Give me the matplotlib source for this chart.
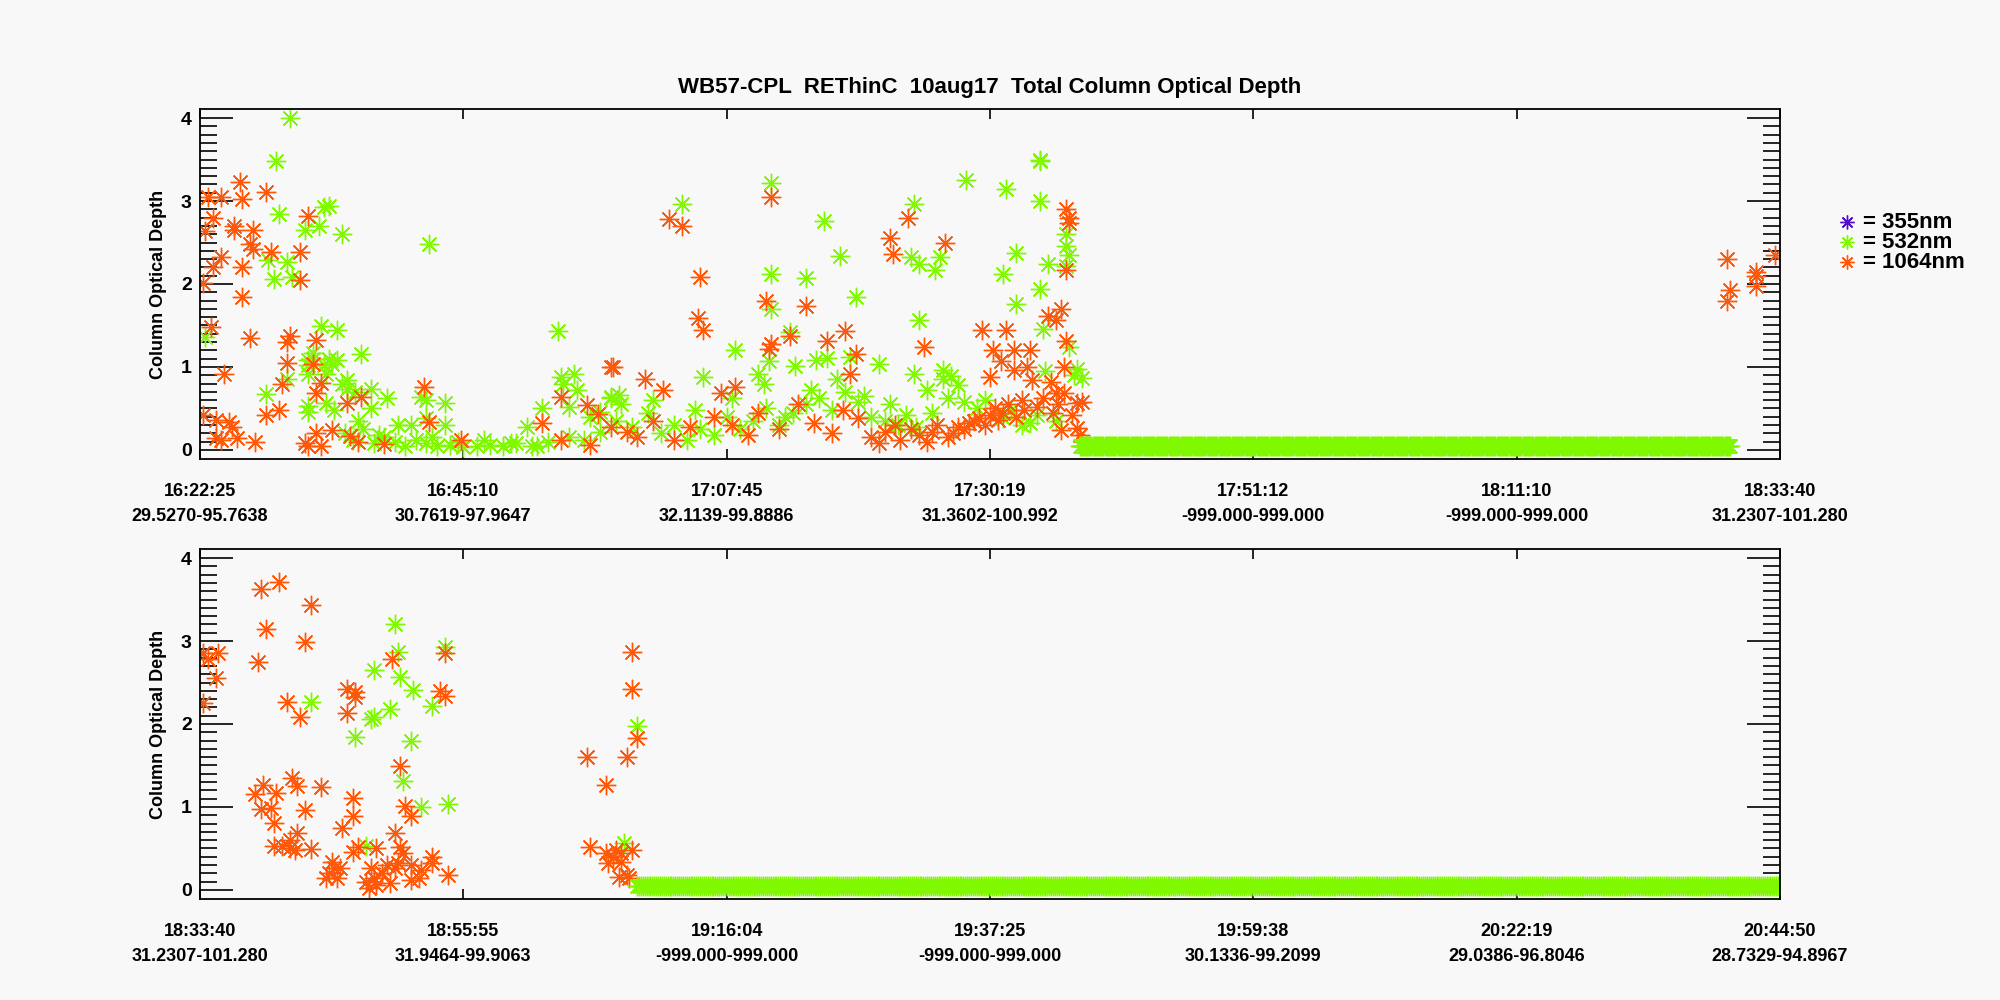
import numpy as np
import matplotlib
matplotlib.use("Agg")
import matplotlib.pyplot as plt
from matplotlib.lines import Line2D

plt.rcParams['font.family'] = ['Liberation Sans', 'DejaVu Sans']
plt.rcParams['font.weight'] = 'bold'

# ------------------------------------------------------------
# Dados (x em unidades de marca do eixo, 0..6)
# ------------------------------------------------------------
top_labels = ["16:22:25\n29.5270-95.7638", "16:45:10\n30.7619-97.9647",
              "17:07:45\n32.1139-99.8886", "17:30:19\n31.3602-100.992",
              "17:51:12\n-999.000-999.000", "18:11:10\n-999.000-999.000",
              "18:33:40\n31.2307-101.280"]
bot_labels = ["18:33:40\n31.2307-101.280", "18:55:55\n31.9464-99.9063",
              "19:16:04\n-999.000-999.000", "19:37:25\n-999.000-999.000",
              "19:59:38\n30.1336-99.2099", "20:22:19\n29.0386-96.8046",
              "20:44:50\n28.7329-94.8967"]

# painel superior - 1064nm
top_x_1064 = [0.01, 0.04, 0.03, 0.08, 0.05, 0.02, 0.05, 0.08, 0.13, 0.13, 0.15, 0.16, 0.16, 0.16,
              0.19, 0.2, 0.2, 0.19, 0.25, 0.27, 0.38, 0.38, 0.41, 0.33, 0.34, 0.44, 0.33, 0.09, 0.43,
              0.31, 0.44, 0.46, 0.25, 0.30, 0.01, 0.06, 0.11, 0.12, 0.14, 0.06, 0.08, 0.21, 0.40,
              0.41, 0.46, 0.44, 0.50, 0.57, 0.56, 0.61, 0.60, 0.70, 0.85, 0.87, 0.99, 1.30, 1.37,
              1.37, 1.47, 1.51, 1.56, 1.56, 1.48,
              1.57, 1.69, 1.76, 1.78, 1.83, 1.90, 1.89, 1.91, 2.17, 2.15, 2.30, 2.24, 2.17, 2.16,
              2.38, 2.45, 2.49, 2.47, 2.62, 2.63, 2.69, 2.83, 2.75, 2.03, 1.98, 2.97, 3.06, 3.01,
              3.09, 3.15, 3.04, 3.09, 3.14, 3.16, 3.00, 3.29, 3.30, 3.30, 3.29, 3.27, 3.22, 3.25,
              3.29, 3.28, 3.23, 3.25, 3.28, 3.33, 3.35, 3.33, 3.34, 3.27,
              1.62, 1.66, 1.72, 1.80, 1.86, 1.95, 2.02, 2.08, 2.12, 2.20, 2.27, 2.33, 2.40, 2.44,
              2.50, 2.55, 2.58, 2.60, 2.64, 2.66, 2.70, 2.73, 2.76, 2.78, 2.80, 2.84, 2.86, 2.88,
              2.90, 2.92, 2.94, 2.96, 2.98, 3.00, 3.02, 3.03, 3.05, 3.07, 3.10, 3.12, 3.13, 3.18,
              3.20, 3.24, 3.26, 3.31,
              5.80, 5.81, 5.80, 5.91, 5.91, 5.91, 5.98]
top_y_1064 = [2.01, 1.48, 3.05, 3.05, 2.80, 2.64, 2.21, 2.32, 2.70, 2.65, 3.23, 3.03, 2.20, 1.84,
              2.48, 2.42, 2.65, 1.35, 3.11, 2.39, 2.39, 2.05, 2.82, 1.30, 1.37, 1.32, 1.05, 0.92, 1.03,
              0.80, 0.68, 0.81, 0.42, 0.48, 0.42, 0.36, 0.34, 0.27, 0.14, 0.14, 0.12, 0.10, 0.08,
              0.05, 0.05, 0.20, 0.24, 0.17, 0.56, 0.64, 0.10, 0.07, 0.76, 0.34, 0.12, 0.32, 0.64,
              0.12, 0.54, 0.43, 1.00, 0.27, 0.06,
              1.00, 0.86, 0.72, 2.78, 2.70, 2.09, 1.59, 1.45, 3.05, 1.80, 1.73, 1.37, 1.28, 1.22,
              1.31, 1.43, 1.16, 0.92, 2.55, 2.36, 2.79, 2.50, 1.24, 0.76, 0.68, 1.44, 1.45, 1.20,
              1.20, 1.20, 1.07, 0.96, 1.00, 0.84, 0.88, 2.90, 2.80, 2.74, 2.17, 1.70, 1.62, 1.56,
              1.31, 1.00, 0.82, 0.68, 0.68, 0.56, 0.58, 0.26, 0.18, 0.24,
              0.22, 0.15, 0.35, 0.12, 0.28, 0.40, 0.30, 0.18, 0.45, 0.25, 0.55, 0.32, 0.20, 0.48,
              0.38, 0.15, 0.08, 0.22, 0.30, 0.12, 0.25, 0.18, 0.10, 0.22, 0.30, 0.15, 0.20, 0.28,
              0.25, 0.32, 0.35, 0.38, 0.30, 0.42, 0.50, 0.36, 0.45, 0.55, 0.40, 0.60, 0.48, 0.52,
              0.62, 0.45, 0.55, 0.42,
              2.30, 1.93, 1.80, 2.15, 2.10, 1.97, 2.35]

# painel superior - 532nm
top_x_532 = [0.34, 0.29, 0.30, 0.40, 0.45, 0.47, 0.49, 0.54, 0.26, 0.33, 0.28, 0.35, 0.87, 0.02,
             0.46, 0.52, 0.61, 0.43, 0.41, 0.47, 0.50, 0.43, 0.41, 0.52, 0.49, 0.33, 0.25, 0.41,
             0.48, 0.54, 0.56, 0.56, 0.59, 0.65, 0.71, 0.84, 0.86, 0.93, 0.41, 0.41, 0.48, 0.51,
             0.65, 1.36, 1.37, 1.42, 1.38, 1.43, 1.40, 1.30, 1.24, 1.48, 1.52, 1.56, 0.93, 0.80,
             0.86,
             1.83, 2.17, 2.17, 2.17, 2.37, 2.30, 2.43, 2.49, 2.24, 2.03, 1.91, 2.71, 2.70, 2.73,
             2.81, 2.79, 2.91, 3.06, 3.19, 3.19, 3.19, 3.05, 3.10, 3.10, 3.19, 3.22, 3.20, 2.73,
             3.29, 3.29, 3.30, 3.29, 3.30, 3.33, 3.35, 3.21, 2.58, 2.47, 2.38, 2.34, 2.26, 2.12,
             2.16, 1.56, 1.59, 2.71, 2.82, 2.85,
             0.55, 0.58, 0.62, 0.66, 0.70, 0.74, 0.78, 0.82, 0.86, 0.90, 0.95, 1.00, 1.05, 1.10,
             1.15, 1.20, 1.26, 1.32, 1.40, 1.46, 1.52, 1.58, 1.64, 1.70, 1.75, 1.80, 1.85, 1.90,
             1.95, 2.00, 2.05, 2.10, 2.15, 2.20, 2.25, 2.30, 2.35, 2.40, 2.45, 2.50, 2.55, 2.60,
             2.65, 2.72, 2.78, 2.84, 2.90, 2.95, 3.05, 3.12, 3.18, 3.25, 3.32,
             0.60, 0.68, 0.75, 0.88, 0.98, 1.08, 1.18, 1.28, 1.60, 1.72, 1.88, 2.02, 2.14, 2.22,
             2.32, 2.42, 2.52, 2.62, 2.68, 2.76, 2.82, 2.88, 2.98, 3.08, 3.15]
top_y_532 = [4.00, 3.48, 2.84, 2.65, 2.70, 2.93, 2.94, 2.60, 2.29, 2.27, 2.06, 2.09, 2.48, 1.36,
             1.49, 1.45, 1.15, 1.10, 1.02, 1.02, 1.03, 1.17, 1.08, 1.08, 1.09, 0.86, 0.67, 0.92,
             0.92, 0.80, 0.84, 0.73, 0.70, 0.73, 0.62, 0.64, 0.60, 0.56, 0.53, 0.46, 0.56, 0.48,
             0.50, 1.43, 0.88, 0.92, 0.80, 0.72, 0.52, 0.50, 0.28, 0.40, 0.46, 0.62, 0.30, 0.30,
             0.38,
             2.97, 3.22, 2.12, 1.70, 2.76, 2.07, 2.34, 1.84, 1.42, 1.20, 0.88, 2.96, 2.32, 2.24,
             2.32, 2.17, 3.25, 3.15, 3.48, 3.49, 3.00, 2.12, 2.37, 1.76, 1.94, 2.24, 1.46, 1.56,
             2.60, 2.46, 2.35, 2.22, 1.24, 0.98, 0.87, 0.95, 1.04, 1.12, 1.11, 1.08, 1.01, 0.92,
             1.07, 0.64, 0.66, 0.92, 0.96, 0.89,
             0.20, 0.12, 0.25, 0.08, 0.15, 0.10, 0.05, 0.12, 0.08, 0.05, 0.06, 0.04, 0.05, 0.06,
             0.05, 0.08, 0.05, 0.10, 0.15, 0.12, 0.22, 0.35, 0.28, 0.45, 0.20, 0.30, 0.12, 0.25,
             0.18, 0.40, 0.25, 0.35, 0.50, 0.30, 0.45, 0.55, 0.62, 0.48, 0.70, 0.58, 0.40, 0.35,
             0.30, 0.28, 0.45, 0.62, 0.58, 0.50, 0.38, 0.30, 0.42, 0.35, 0.90,
             0.35, 0.18, 0.30, 0.15, 0.10, 0.12, 0.08, 0.05, 0.55, 0.60, 0.48, 0.62, 0.80, 0.40,
             0.72, 0.85, 0.65, 0.55, 0.42, 0.72, 0.85, 0.78, 0.60, 0.48, 0.32]

# faixa de céu limpo (532nm) - valores constantes
top_clear_start, top_clear_end = 3.34, 5.81
bot_clear_start, bot_clear_end = 1.66, 6.0
clear_value = 0.05

# painel inferior - 1064nm
bot_x_1064 = [0.01, 0.01, 0.03, 0.07, 0.06, 0.23, 0.30, 0.25, 0.22, 0.42, 0.40, 0.33, 0.38, 0.21,
              0.24, 0.29, 0.23, 0.27, 0.28, 0.35, 0.37, 0.46, 0.40, 0.28, 0.31, 0.34, 0.34, 0.37,
              0.36, 0.42, 0.56, 0.59, 0.59, 0.56, 0.58, 0.58, 0.54, 0.58, 0.60, 0.67, 0.50, 0.49,
              0.51, 0.53, 0.48, 0.52, 0.63, 0.65, 0.64, 0.67, 0.66, 0.69, 0.71, 0.72, 0.74, 0.75,
              0.73, 0.76, 0.78, 0.80, 0.74, 0.76, 0.77, 0.80, 0.80, 0.83, 0.84, 0.88, 0.88, 0.94,
              0.91, 0.93, 0.93, 1.47, 1.54, 1.48, 1.54, 1.55, 1.57, 1.58, 1.60, 1.60, 1.59, 1.62,
              1.63, 1.62, 1.64, 1.64, 1.66, 1.64]
bot_y_1064 = [2.25, 2.86, 2.78, 2.86, 2.55, 3.63, 3.71, 3.15, 2.75, 3.44, 2.99, 2.26, 2.09, 1.16,
              1.26, 1.17, 0.97, 0.99, 0.81, 1.35, 1.25, 1.24, 0.96, 0.53, 0.53, 0.60, 0.50, 0.68,
              0.48, 0.49, 2.42, 2.38, 2.32, 2.13, 1.11, 0.89, 0.75, 0.46, 0.52, 0.50, 0.34, 0.20,
              0.26, 0.26, 0.14, 0.14, 0.10, 0.26, 0.02, 0.06, 0.14, 0.20, 0.30, 0.08, 0.26, 0.32,
              2.78, 1.49, 1.01, 0.89, 0.69, 0.52, 0.45, 0.30, 0.12, 0.14, 0.24, 0.40, 0.32, 0.18,
              2.40, 2.34, 2.86, 1.60, 1.26, 0.52, 0.44, 0.32, 0.40, 0.48, 0.34, 0.44, 0.16, 0.18,
              0.14, 1.60, 2.42, 2.87, 1.83, 0.48]

# painel inferior - 532nm
bot_x_532 = [0.42, 0.59, 0.65, 0.66, 0.66, 0.72, 0.74, 0.75, 0.76, 0.81, 0.80, 0.77, 0.88, 0.93,
             0.84, 0.94, 0.63, 1.61, 1.66]
bot_y_532 = [2.26, 1.84, 2.06, 2.09, 2.65, 2.18, 3.21, 2.87, 2.57, 2.41, 1.80, 1.31, 2.22, 2.93,
             1.00, 1.04, 0.53, 0.57, 1.98]

legend_names = ["= 355nm", "= 532nm", "= 1064nm"]
cor_355 = "#5010c8"
cor_532 = "#80f800"
cor_1064 = "#ff5808"

# ------------------------------------------------------------
# Figura
# ------------------------------------------------------------
fundo = "#f8f8f8"
fig = plt.figure(figsize=(20, 10), dpi=100, facecolor=fundo)
ax1 = fig.add_axes([0.100, 0.541, 0.790, 0.350], facecolor=fundo)
ax2 = fig.add_axes([0.100, 0.101, 0.790, 0.350], facecolor=fundo)

estrela = (8, 2, 0)
estilo = dict(linestyle="none", marker=estrela, markersize=14, markeredgewidth=1.0)


def faixa(ax, x0, x1):
    xs = np.linspace(x0, x1, 600)
    ax.plot(xs, np.full_like(xs, clear_value), color=cor_532, **estilo)


ax1.plot(top_x_532, top_y_532, color=cor_532, **estilo)
ax1.plot(top_x_1064, top_y_1064, color=cor_1064, **estilo)
faixa(ax1, top_clear_start, top_clear_end)

ax2.plot(bot_x_532, bot_y_532, color=cor_532, **estilo)
ax2.plot(bot_x_1064, bot_y_1064, color=cor_1064, **estilo)
faixa(ax2, bot_clear_start, bot_clear_end)

for ax, labels in ((ax1, top_labels), (ax2, bot_labels)):
    ax.set_xlim(0, 6)
    ax.set_ylim(-0.11, 4.11)
    ax.set_xticks(range(7))
    ax.set_xticklabels(labels, fontsize=13, fontweight="bold", linespacing=1.65)
    ax.set_yticks(range(5))
    ax.set_yticks(np.arange(0, 4.05, 0.1), minor=True)
    ax.tick_params(axis="x", direction="in", length=7, width=1.2, top=True, pad=17)
    ax.tick_params(axis="y", which="major", direction="in", length=24, width=1.2,
                   right=True, labelsize=14, pad=6)
    ax.tick_params(axis="y", which="minor", direction="in", length=12, width=1.2, right=True)
    for lab in ax.get_yticklabels():
        lab.set_fontweight("bold")
    for s in ax.spines.values():
        s.set_linewidth(1.3)
    ax.set_ylabel("Column Optical Depth", fontsize=13, fontweight="bold", labelpad=10)

fig.text(0.495, 0.913, "WB57-CPL  REThinC  10aug17  Total Column Optical Depth",
         ha="center", va="center", fontsize=16, fontweight="bold")

# legenda
for i, (nome, cor) in enumerate(zip(legend_names, [cor_355, cor_532, cor_1064])):
    yy = 0.778 - i * 0.020
    fig.add_artist(Line2D([0.9235], [yy], transform=fig.transFigure, color=cor,
                          marker=estrela, markersize=10, markeredgewidth=1.0, linestyle="none"))
    fig.text(0.9315, yy, nome, ha="left", va="center", fontsize=16, fontweight="bold")

fig.savefig("out.png", dpi=100, facecolor=fundo)
